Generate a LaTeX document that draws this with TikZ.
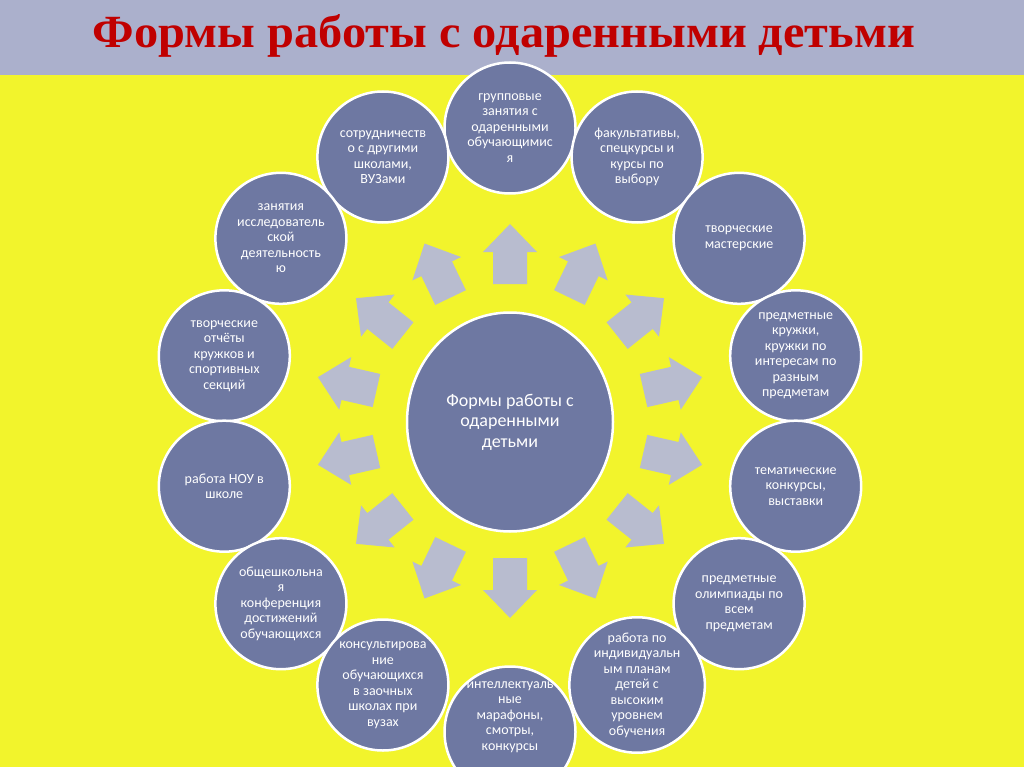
\documentclass[tikz,border=0pt]{standalone}
\usepackage{graphicx}
\usepackage{fontspec}
\setmainfont{Carlito}
\newfontfamily\titlefont{Liberation Serif}
\usetikzlibrary{shapes.geometric}
\definecolor{band}{RGB}{171,176,204}
\definecolor{bgyellow}{RGB}{242,244,44}
\definecolor{disk}{RGB}{110,120,162}
\definecolor{arrowgray}{RGB}{184,188,207}
\definecolor{titlered}{RGB}{192,0,0}
\tikzset{
  item/.style={circle, fill=disk, draw=white, line width=2.5pt, minimum size=131pt,
    inner sep=0pt, align=center, text=white, font=\fontsize{14}{15.5}\selectfont},
  itemtext/.style={inner sep=0pt, align=center, text=white, font=\fontsize{14}{15.5}\selectfont},
  hub/.style={ellipse, fill=disk, draw=white, line width=2.5pt, minimum width=206pt,
    minimum height=219pt, inner sep=0pt, align=center, text=white, font=\fontsize{18}{20.5}\selectfont},
  blockarrow/.style={fill=arrowgray, draw=none}
}
\begin{document}
\begin{tikzpicture}[x=1pt,y=1pt]
\useasboundingbox (0,0) rectangle (1024,-767);
\clip (0,0) rectangle (1024,-767);
\fill[bgyellow] (0,0) rectangle (1024,-767);
\fill[band] (0,0) rectangle (1024,-75);
\node[anchor=base, text=titlered, inner sep=0pt] (title) at (504,-48)
  {\resizebox{822pt}{33pt}{\titlefont\bfseries Формы работы с одаренными детьми}};

% block arrows
\foreach \k in {0,...,13} {
  \fill[blockarrow, shift={(510,-421)}, rotate={90+\k*360/14}]
    (137,-17) -- (169,-17) -- (169,-27) -- (197,0) -- (169,27) -- (169,17) -- (137,17) -- cycle;
}

% hub
\node[hub] (hub) at (510,-422) {Формы работы с\\одаренными\\детьми};

% outer circles (drawn from top to bottom)
\node[item] (c0)  at (510,-128)     {групповые\\занятия с\\одаренными\\обучающимис\\я};
\node[item] (c1)  at (382.9,-157)   {сотрудничеств\\о с другими\\школами,\\ВУЗами};
\node[item] (c13) at (637.1,-157)   {факультативы,\\спецкурсы и\\курсы по\\выбору};
\node[item] (c2)  at (280.9,-238.3) {занятия\\исследователь\\ской\\деятельность\\ю};
\node[item] (c12) at (739.1,-238.3) {творческие\\мастерские};
\node[item] (c3)  at (224.3,-355.8) {творческие\\отчёты\\кружков и\\спортивных\\секций};
\node[item] (c11) at (795.7,-355.8) {предметные\\кружки,\\кружки по\\интересам по\\разным\\предметам};
\node[item] (c4)  at (224.3,-486.2) {работа НОУ в\\школе};
\node[item] (c10) at (795.7,-486.2) {тематические\\конкурсы,\\выставки};
\node[item] (c5)  at (280.9,-603.7) {общешкольна\\я\\конференция\\достижений\\обучающихся};
\node[item] (c9)  at (739.1,-603.7) {предметные\\олимпиады по\\всем\\предметам};
\node[item] (c6)  at (382.9,-685)   {консультирова\\ние\\обучающихся\\в заочных\\школах при\\вузах};
\node[item] (c8)  at (637.1,-685)   {работа по\\индивидуальн\\ым планам\\детей с\\высоким\\уровнем\\обучения};
\node[item] (c7)  at (510,-732)     {};
\node[itemtext] (c7t) at (510,-717) {интеллектуаль\\ные\\марафоны,\\смотры,\\конкурсы};
\end{tikzpicture}
\end{document}
